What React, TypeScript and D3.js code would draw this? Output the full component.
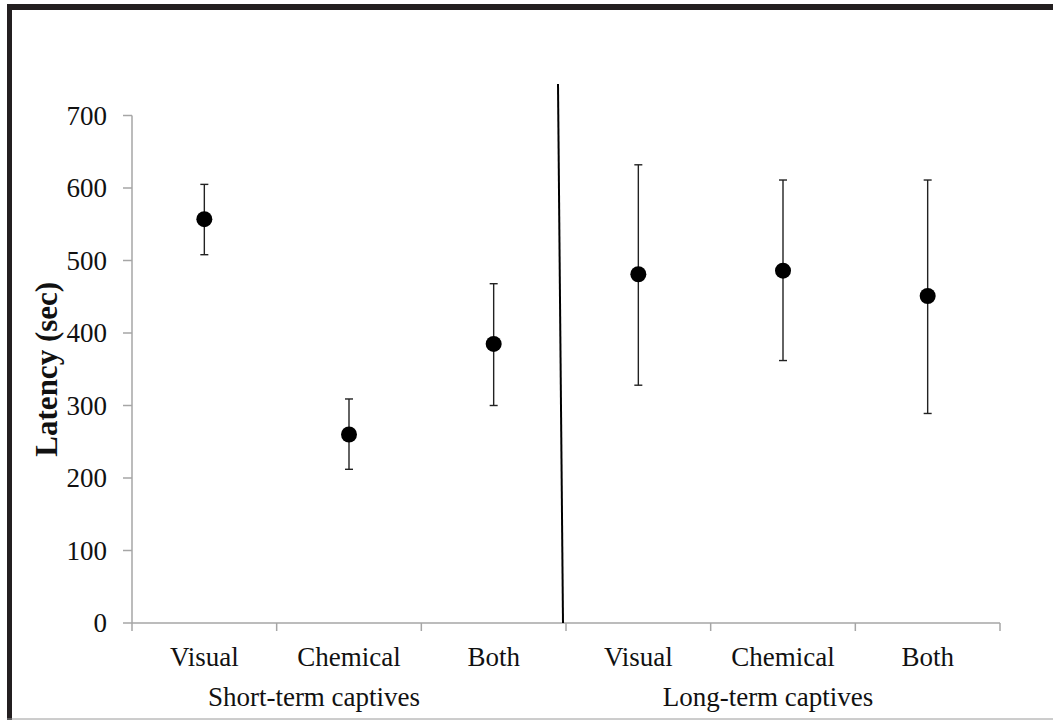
import React from 'react';
import * as d3 from 'd3';

const categories = ['Visual', 'Chemical', 'Both', 'Visual', 'Chemical', 'Both'];
const groups = ['Short-term captives', 'Long-term captives'];
const groupShift = [-35, -15];
const means = [557, 260, 385, 481, 486, 451];
const upper = [605, 309, 468, 632, 611, 611];
const lower = [508, 212, 300, 328, 362, 289];
const yTicks = [0, 100, 200, 300, 400, 500, 600, 700];

const W = 1053, H = 720;
const margin = { left: 132, right: 53, top: 115.5, bottom: 97 };
const font = '"Liberation Serif", "Times New Roman", serif';

export default function App() {
  const keys = categories.map((c, i) => `${i}-${c}`);

  const x = d3.scaleBand<string>()
    .domain(keys)
    .range([margin.left, W - margin.right])
    .padding(0);

  const y = d3.scaleLinear()
    .domain([0, 700])
    .range([H - margin.bottom, margin.top]);

  const bw = x.bandwidth();
  const boundaries = keys.map(k => x(k)!).concat([x(keys[keys.length - 1])! + bw]);
  const axisColor = '#a6a6a6';
  const cap = 4;

  // divider between the two groups, slightly slanted as in the original
  const divX = x(keys[3])!;

  return (
    <svg width={W} height={H} style={{ position: 'absolute', left: 0, top: 0, background: '#fff' }}>
      {/* frame */}
      <rect x={7} y={4} width={W - 7} height={6} fill="#231f20" />
      <rect x={7} y={4} width={5} height={H - 4} fill="#231f20" />
      <line x1={7} x2={W} y1={719} y2={719} stroke="#9a9a9a" strokeWidth={1} />

      {/* y axis */}
      <line x1={margin.left} x2={margin.left} y1={y(700)} y2={y(0)} stroke={axisColor} strokeWidth={1.5} />
      {yTicks.map(t => (
        <g key={t}>
          <line x1={margin.left - 9} x2={margin.left} y1={y(t)} y2={y(t)} stroke={axisColor} strokeWidth={1.5} />
          <text x={107} y={y(t)} dy="0.34em" textAnchor="end" fontFamily={font} fontSize={27} fill="#111">{t}</text>
        </g>
      ))}

      {/* x axis */}
      <line x1={margin.left} x2={W - margin.right} y1={y(0)} y2={y(0)} stroke={axisColor} strokeWidth={1.5} />
      {boundaries.map((b, i) => (
        <line key={i} x1={b} x2={b} y1={y(0)} y2={y(0) + 8} stroke={axisColor} strokeWidth={1.5} />
      ))}
      {keys.map((k, i) => (
        <text key={k} x={x(k)! + bw / 2} y={666} textAnchor="middle" fontFamily={font} fontSize={27} fill="#111">
          {categories[i]}
        </text>
      ))}
      {groups.map((g, gi) => {
        const mid = x(keys[gi * 3 + 1])! + bw / 2 + groupShift[gi];
        return (
          <text key={g} x={mid} y={706} textAnchor="middle" fontFamily={font} fontSize={27} fill="#111">{g}</text>
        );
      })}

      {/* y label */}
      <text
        transform={`translate(57, ${y(350)}) rotate(-90)`}
        textAnchor="middle"
        fontFamily={font}
        fontSize={31}
        fontWeight="bold"
        fill="#111"
      >
        Latency (sec)
      </text>

      {/* group divider */}
      <line x1={divX - 8} x2={divX - 3} y1={84} y2={y(0)} stroke="#000" strokeWidth={2} />

      {/* error bars and means */}
      {keys.map((k, i) => {
        const cx = x(k)! + bw / 2;
        return (
          <g key={k}>
            <line x1={cx} x2={cx} y1={y(upper[i])} y2={y(lower[i])} stroke="#222" strokeWidth={1.4} />
            <line x1={cx - cap} x2={cx + cap} y1={y(upper[i])} y2={y(upper[i])} stroke="#222" strokeWidth={1.4} />
            <line x1={cx - cap} x2={cx + cap} y1={y(lower[i])} y2={y(lower[i])} stroke="#222" strokeWidth={1.4} />
            <circle cx={cx} cy={y(means[i])} r={8} fill="#000" />
          </g>
        );
      })}
    </svg>
  );
}
